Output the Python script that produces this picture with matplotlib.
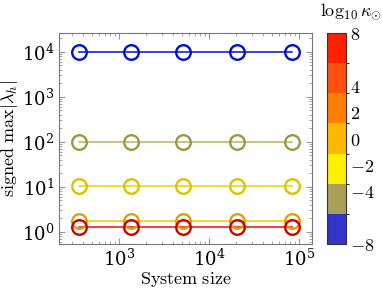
import numpy as np
import matplotlib
matplotlib.use("Agg")
import matplotlib.pyplot as plt
from matplotlib.colors import ListedColormap, BoundaryNorm
from matplotlib.ticker import LogLocator, NullFormatter

plt.rcParams['mathtext.fontset'] = 'cm'
plt.rcParams['font.family'] = 'serif'
plt.rcParams['font.serif'] = ['DejaVu Serif']

# system sizes (x) shared by all series
system_size = [361, 1369, 5184, 20449, 82944]

# log10 kappa of each series and its signed max |lambda_h|
log_kappa = [-8, -4, -2, 0, 8]
lam_values = [
    [10000, 10000, 10000, 10000, 10000],
    [100, 100, 100, 100, 100],
    [10.4, 10.4, 10.4, 10.4, 10.4],
    [1.72, 1.72, 1.72, 1.72, 1.72],
    [1.28, 1.28, 1.28, 1.28, 1.28],
]
line_colors = ['#0010cc', '#b8b468', '#e8d400', '#ffc400', '#ee1000']
mark_colors = ['#0010cc', '#9c9840', '#d8c400', '#d8a400', '#cc0000']

# discrete colormap of the colorbar (bottom to top)
bin_colors = ['#3535c8', '#a8a058', '#fff000', '#ffb800', '#ff8000', '#ff5010', '#ff2000']
cbar_ticks = [-8, -4, -2, 0, 2, 4, 8]


def main():
    cmap = ListedColormap(bin_colors)
    bounds = np.linspace(-8, 8, len(bin_colors) + 1)
    norm = BoundaryNorm(bounds, cmap.N)

    fig = plt.figure(figsize=(3.82, 2.91), dpi=100)
    ax = fig.add_axes([0.1545, 0.1615, 0.6625, 0.725])
    cax = fig.add_axes([0.856, 0.1615, 0.05, 0.725])

    for ys, lc, mc in zip(lam_values, line_colors, mark_colors):
        ax.plot(system_size, ys, '-', color=lc, lw=1.1, zorder=2)
        ax.plot(system_size, ys, 'o', mfc='none', mec=mc, ms=10.5, mew=1.7, zorder=3)

    ax.set_xscale('log')
    ax.set_yscale('log')
    ax.set_xlim(215, 1.39e5)
    ax.set_ylim(0.54, 2.6e4)

    ax.yaxis.set_major_locator(LogLocator(base=10, numticks=10))
    ax.yaxis.set_minor_locator(LogLocator(base=10, subs=np.arange(2, 10), numticks=10))
    ax.yaxis.set_minor_formatter(NullFormatter())
    ax.xaxis.set_minor_formatter(NullFormatter())

    for s in ax.spines.values():
        s.set_color('#777777')
        s.set_linewidth(0.8)
    ax.tick_params(which='both', direction='in', top=True, right=True,
                   color='#999999', labelsize=13)
    ax.tick_params(which='major', length=4)
    ax.tick_params(which='minor', length=2)

    ax.set_xlabel(r'$\mathrm{System\ size}$', fontsize=13, labelpad=0)
    ax.set_ylabel(r'$\mathrm{signed}\ \max|\lambda_h|$', fontsize=13, labelpad=1)

    sm = plt.cm.ScalarMappable(cmap=cmap, norm=norm)
    cb = fig.colorbar(sm, cax=cax, boundaries=bounds, ticks=cbar_ticks)
    cb.ax.set_yticklabels([r'$%d$' % t for t in cbar_ticks])
    cb.ax.tick_params(labelsize=13, length=0, pad=3)
    cb.outline.set_linewidth(0.8)
    cb.outline.set_edgecolor('#333333')
    cax.set_title(r'$\log_{10}\kappa_{\odot}$', fontsize=13, pad=12, x=1.25)

    fig.savefig('out.png', dpi=100)


if __name__ == "__main__":
    main()
